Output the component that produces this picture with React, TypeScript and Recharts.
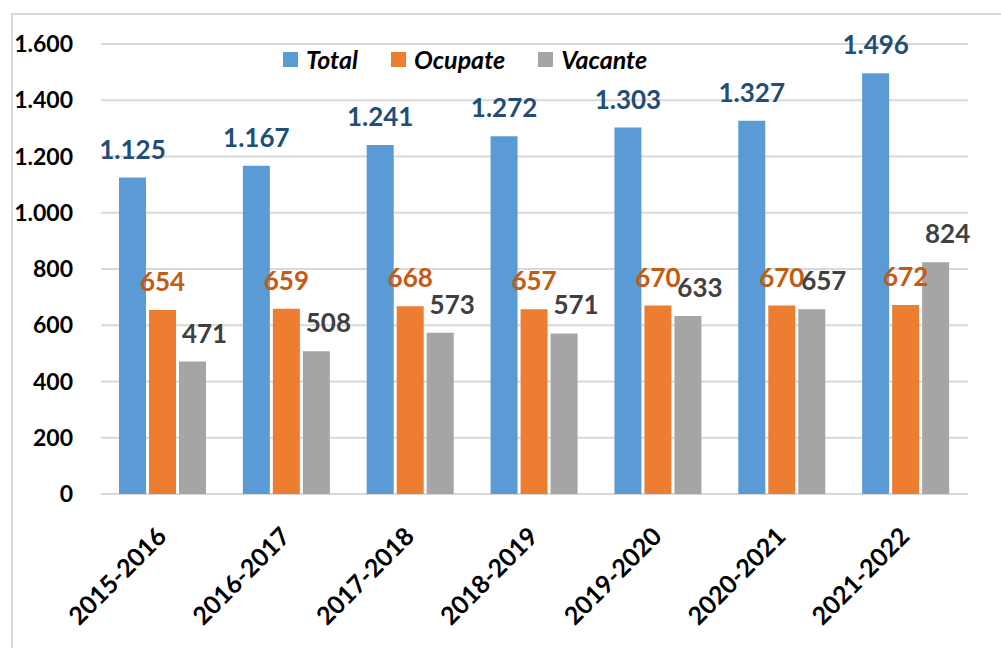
import { BarChart, Bar, XAxis, YAxis, CartesianGrid, LabelList } from "recharts";

const years = ["2015-2016", "2016-2017", "2017-2018", "2018-2019", "2019-2020", "2020-2021", "2021-2022"];
const total = [1125, 1167, 1241, 1272, 1303, 1327, 1496];
const ocupate = [654, 659, 668, 657, 670, 670, 672];
const vacante = [471, 508, 573, 571, 633, 657, 824];
const yTicks = [0, 200, 400, 600, 800, 1000, 1200, 1400, 1600];

const series = [
  { key: "total", name: "Total", color: "#5B9BD5", labelColor: "#1F4E79", dx: 0 },
  { key: "ocupate", name: "Ocupate", color: "#ED7D31", labelColor: "#C55A11", dx: 0 },
  { key: "vacante", name: "Vacante", color: "#A5A5A5", labelColor: "#404040", dx: 12 },
];

const data = years.map((y, i) => ({
  year: y,
  total: total[i],
  ocupate: ocupate[i],
  vacante: vacante[i],
}));

const FONT = "Lato, 'Open Sans', sans-serif";

const fmt = (v: number) => String(v).replace(/\B(?=(\d{3})+(?!\d))/g, ".");

const XTick = ({ x, y, payload }: any) => (
  <g transform={`translate(${x + 5},${y + 36})`}>
    <text
      x={0}
      y={0}
      textAnchor="end"
      transform="rotate(-45)"
      fontFamily={FONT}
      fontWeight={700}
      fontSize={25}
      fill="#000"
    >
      {payload.value}
    </text>
  </g>
);

const makeLabel = (color: string, dx: number) => (props: any) => {
  const { x, y, width, value } = props;
  return (
    <text
      x={x + width / 2 + dx}
      y={y - 19}
      textAnchor="middle"
      fontFamily={FONT}
      fontWeight={700}
      fontSize={26}
      fill={color}
    >
      {fmt(value)}
    </text>
  );
};

// legend drawn as an overlay so it doesn't push the plot area down
const LegendBox = () => (
  <div style={{ position: "absolute", left: 283, top: 46, display: "flex", alignItems: "center", fontFamily: FONT }}>
    {series.map((s, i) => (
      <div key={s.key} style={{ display: "flex", alignItems: "center", marginLeft: i === 0 ? 0 : 33 }}>
        <div style={{ width: 15, height: 15, background: s.color }} />
        <span
          style={{
            marginLeft: 8,
            fontSize: 25,
            fontWeight: 700,
            fontStyle: "italic",
            color: "#000",
            lineHeight: "26px",
          }}
        >
          {s.name}
        </span>
      </div>
    ))}
  </div>
);

export default function App() {
  return (
    <div style={{ position: "absolute", left: 0, top: 0, width: 1001, height: 648, overflow: "hidden", background: "#fff" }}>
      <div
        style={{
          position: "absolute",
          left: 11,
          top: 13,
          width: 1010,
          height: 660,
          border: "2px solid #D9D9D9",
          boxSizing: "border-box",
        }}
      />
      <div style={{ position: "absolute", left: 0, top: 0 }}>
        <BarChart
          width={1001}
          height={648}
          data={data}
          margin={{ top: 44, right: 33, bottom: 0, left: 0 }}
          barGap={3}
          barSize={27}
        >
          <CartesianGrid vertical={false} stroke="#D9D9D9" strokeWidth={2} />
          <XAxis dataKey="year" axisLine={false} tickLine={false} tick={<XTick />} interval={0} height={154} />
          <YAxis
            width={101}
            domain={[0, 1600]}
            ticks={yTicks}
            axisLine={false}
            tickLine={false}
            tickSize={0}
            tickMargin={28}
            tickFormatter={fmt}
            tick={{ fontFamily: FONT, fontWeight: 700, fontSize: 23, fill: "#000" }}
          />
          {series.map((s) => (
            <Bar key={s.key} dataKey={s.key} name={s.name} fill={s.color} isAnimationActive={false}>
              <LabelList dataKey={s.key} content={makeLabel(s.labelColor, s.dx)} />
            </Bar>
          ))}
        </BarChart>
      </div>
      <LegendBox />
    </div>
  );
}
